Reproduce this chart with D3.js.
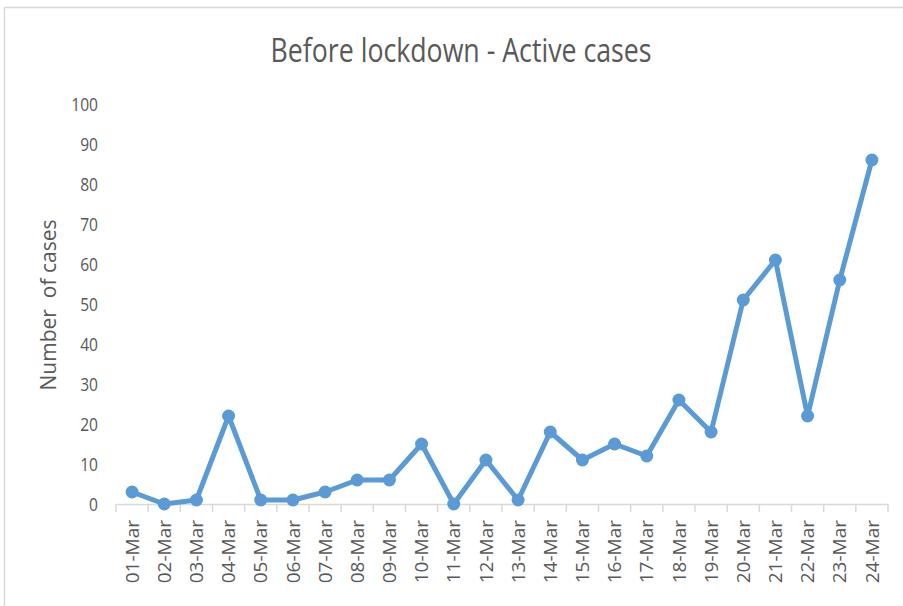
<!DOCTYPE html>
<html><head><meta charset="utf-8">
<script src="https://cdn.jsdelivr.net/npm/d3@7"></script>
<style>
body{margin:0;background:#fff;}
text{fill:#595959;}
</style></head>
<body>
<svg id="chart" width="903" height="606"></svg>
<script>
const categories = ["01-Mar","02-Mar","03-Mar","04-Mar","05-Mar","06-Mar","07-Mar","08-Mar","09-Mar","10-Mar","11-Mar","12-Mar","13-Mar","14-Mar","15-Mar","16-Mar","17-Mar","18-Mar","19-Mar","20-Mar","21-Mar","22-Mar","23-Mar","24-Mar"];
const activeCases = [3,0,1,22,1,1,3,6,6,15,0,11,1,18,11,15,12,26,18,51,61,22,56,86];
const yTicks = [0,10,20,30,40,50,60,70,80,90,100];
const title = "Before lockdown - Active cases";
const yTitle = "Number  of cases";

const svg = d3.select("#chart");
const narrow = "'Open Sans','Noto Sans',sans-serif";
const regular = "'Open Sans','Noto Sans',sans-serif";

// frame
svg.append("rect").attr("x",4.5).attr("y",7.5).attr("width",920).attr("height",620)
  .attr("fill","none").attr("stroke","#d9d9d9").attr("stroke-width",1.5);

const x = d3.scaleBand().domain(categories).range([116,888]);
const y = d3.scaleLinear().domain([0,100]).range([504,104]);

// title
svg.append("text").attr("x",461).attr("y",62).attr("text-anchor","middle")
  .attr("textLength",381).attr("lengthAdjust","spacingAndGlyphs")
  .style("font-family",narrow).style("font-size","32px").text(title);

// y axis labels
const yAxis = d3.axisLeft(y).tickValues(yTicks).tickSize(0).tickPadding(0);
const gy = svg.append("g").attr("transform","translate(98,0)").call(yAxis);
gy.select(".domain").remove();
gy.selectAll("text").style("font-family",narrow).style("font-size","19px").style("fill","#595959")
  .attr("transform","scale(0.82,1)");

// y title
svg.append("text").attr("transform","translate(56,305) rotate(-90)").attr("text-anchor","middle")
  .style("font-family",regular).style("font-size","21px").style("white-space","pre").text(yTitle);

// x axis
const xAxis = d3.axisBottom(x).tickSize(0).tickPadding(0);
const gx = svg.append("g").attr("transform","translate(0,504)").call(xAxis);
gx.select(".domain").attr("stroke","#d9d9d9").attr("stroke-width",1.5);
// boundary ticks
const bounds = categories.map(c => x(c)).concat([x.range()[1]]);
gx.selectAll("line.bt").data(bounds).enter().append("line").attr("class","bt")
  .attr("x1",d=>d).attr("x2",d=>d).attr("y1",0).attr("y2",8)
  .attr("stroke","#d9d9d9").attr("stroke-width",1.5);
gx.selectAll(".tick text")
  .attr("transform","translate(0,16) rotate(-90)")
  .attr("text-anchor","end").attr("dy","0.35em").attr("x",0).attr("y",0)
  .style("font-family",regular).style("font-size","19px").style("fill","#595959");

// line
const cx = (d,i) => x(categories[i]) + x.bandwidth()/2;
const line = d3.line().x((d,i)=>cx(d,i)).y(d=>y(d));
svg.append("path").datum(activeCases).attr("d",line).attr("fill","none")
  .attr("stroke","#5b9bd5").attr("stroke-width",5).attr("stroke-linejoin","round");
svg.selectAll("circle.pt").data(activeCases).enter().append("circle").attr("class","pt")
  .attr("cx",(d,i)=>cx(d,i)).attr("cy",d=>y(d)).attr("r",6.5).attr("fill","#5b9bd5");
</script>
</body></html>
